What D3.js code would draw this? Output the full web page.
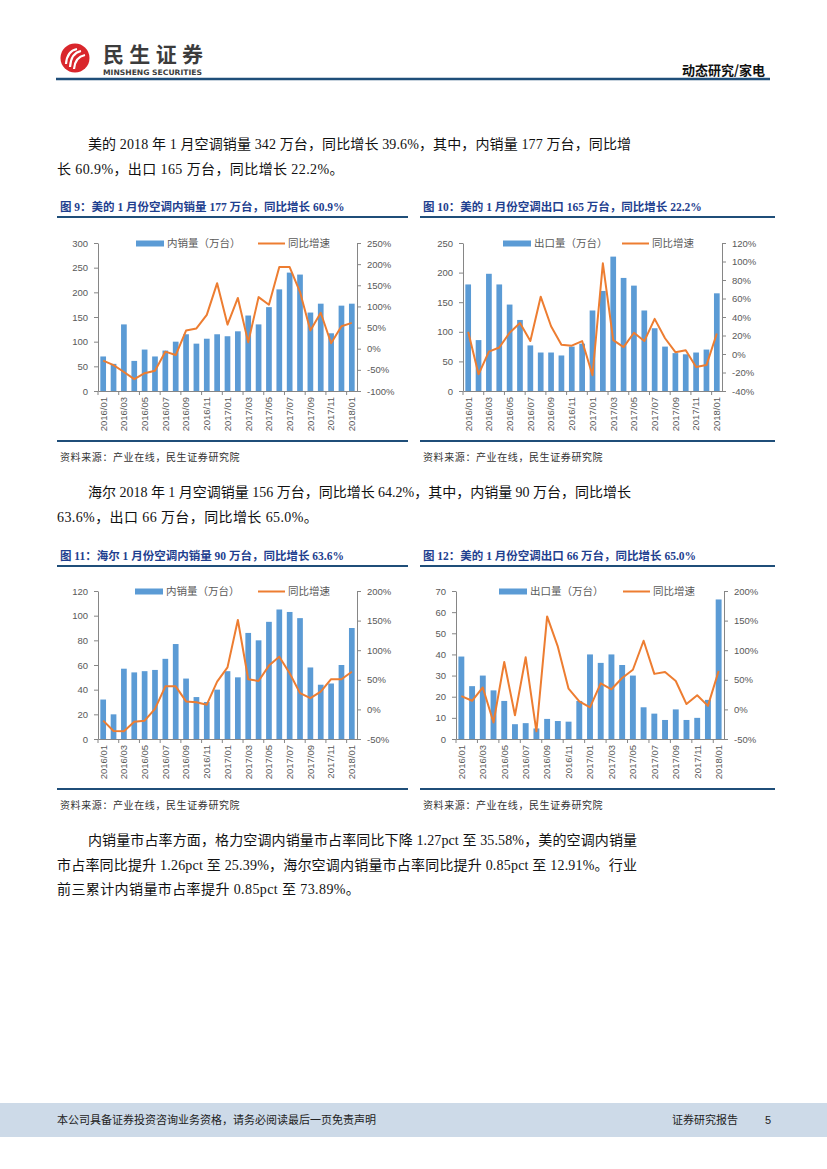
<!DOCTYPE html>
<html>
<head>
<meta charset="utf-8">
<script src="https://cdn.jsdelivr.net/npm/d3@7"></script>
<style>
  body { margin: 0; background: #fff; }
  svg { display: block; }
</style>
</head>
<body>
<div id="page"></div>
<script>
// page size
var width = 827;
var height = 1169;

// categories: months shown on every chart
var months = ["2016/01","2016/02","2016/03","2016/04","2016/05","2016/06","2016/07","2016/08","2016/09","2016/10","2016/11","2016/12",
              "2017/01","2017/02","2017/03","2017/04","2017/05","2017/06","2017/07","2017/08","2017/09","2017/10","2017/11","2017/12","2018/01"];

// fig 9: Midea domestic sales (10k units) and yoy (%)
var mideaDomVol = [70,55,135,61,84,70,82,100,115,96,106,115,111,121,153,135,170,206,240,236,159,177,117,173,177];
var mideaDomYoy = [-28,-39,-55,-72,-58,-52,-7,-15,43,48,80,155,57,120,15,122,104,193,193,134,43,85,13,53,61];
// fig 10: Midea export
var mideaExpVol = [180,86,198,180,146,120,77,65,65,60,75,80,136,169,227,191,178,136,106,75,64,62,65,70,165];
var mideaExpYoy = [24,-22,2.5,7,23,33.5,14,62,30,10,9,14,-23,98,15,7.5,23,14,38,17,2,4,-14,-12,22.2];
// fig 11: Haier domestic sales
var haierDomVol = [32,20,57,54,55,56,65,77,49,34,30,40,55,50,86,80,95,105,103,98,58,44,45,60,90];
var haierDomYoy = [-19,-36.5,-37,-21,-19,1,39,39,13.5,12,8,47,71,151,51,48,74,89,61,27.5,19,30,51,51,63.6];
// fig 12: export, 66
var exp12Vol = [39,25,30,23,18,7,7.5,5,9.5,8.5,8.2,18,40,36,40,35,30,15,12,9,14,9,10,18.5,66];
var exp12Yoy = [22.5,14.6,37,-22,80,-10,88,-37,157,106,35,13.5,3.4,44,34,53,67,116,60,63,48,9,24,6,65];

// tick labels
var ticks9L = [0,50,100,150,200,250,300];
var ticks9R = [-100,-50,0,50,100,150,200,250];
var ticks10L = [0,50,100,150,200,250];
var ticks10R = [-40,-20,0,20,40,60,80,100,120];
var ticks11L = [0,20,40,60,80,100,120];
var ticks11R = [-50,0,50,100,150,200];
var ticks12L = [0,10,20,30,40,50,60,70];
var ticks12R = [-50,0,50,100,150,200];

var barColor = "#5B9BD5";
var lineColor = "#ED7D31";
var axisColor = "#868686";
var tickText = "#595959";
var navy = "#1F4E79";
var serif = "'Liberation Serif','Noto Sans CJK SC',serif";
var sans = "'Liberation Sans','Noto Sans CJK SC',sans-serif";
var cjk = "'Noto Sans CJK SC',sans-serif";

var svg = d3.select("#page").append("svg")
    .attr("width", width)
    .attr("height", height);

// ---------- header ----------
var logo = svg.append("g").attr("transform", "translate(75,58)");
logo.append("circle").attr("r", 14.5).attr("fill", "#D9262C");
[[-9,6,2,-9],[-5,9,6,-7],[-1,11,10,-3]].forEach(function(s){
    logo.append("path")
        .attr("d", "M" + s[0] + "," + s[1] + " Q" + (s[0]+1) + "," + (s[3]+2) + " " + s[2] + "," + s[3])
        .attr("fill", "none").attr("stroke", "#fff").attr("stroke-width", 2.2);
});
svg.append("text").attr("x", 103).attr("y", 62)
    .attr("font-family", cjk).attr("font-weight", "bold").attr("font-size", 21)
    .attr("fill", "#3C3C3C").attr("textLength", 100).text("民生证券");
svg.append("text").attr("x", 103).attr("y", 75)
    .attr("font-family", "'DejaVu Sans',sans-serif").attr("font-weight", "bold").attr("font-size", 7.5)
    .attr("fill", "#3C3C3C").attr("textLength", 99).attr("lengthAdjust", "spacingAndGlyphs")
    .text("MINSHENG SECURITIES");
svg.append("text").attr("x", 765).attr("y", 75).attr("text-anchor", "end")
    .attr("font-family", cjk).attr("font-weight", "bold").attr("font-size", 13)
    .attr("fill", "#111").text("动态研究/家电");
svg.append("line").attr("x1", 56).attr("x2", 770).attr("y1", 79).attr("y2", 79)
    .attr("stroke", navy).attr("stroke-width", 2.5);

// ---------- body text ----------
function para(lines, y0) {
    lines.forEach(function(l, i){
        var x0 = l.indent ? 88 : 57;
        var t = svg.append("text")
            .attr("x", x0)
            .attr("y", y0 + i * 24.5)
            .attr("font-family", serif).attr("font-size", 14).attr("fill", "#111")
            .text(l.text);
        if (l.full) t.attr("textLength", l.full - x0).attr("lengthAdjust", "spacing");
        else t.attr("letter-spacing", 0.4);
    });
}
para([
    {text: "美的 2018 年 1 月空调销量 342 万台，同比增长 39.6%，其中，内销量 177 万台，同比增", indent: true, full: 631},
    {text: "长 60.9%，出口 165 万台，同比增长 22.2%。"}
], 149);
para([
    {text: "海尔 2018 年 1 月空调销量 156 万台，同比增长 64.2%，其中，内销量 90 万台，同比增长", indent: true, full: 631},
    {text: "63.6%，出口 66 万台，同比增长 65.0%。"}
], 497);
para([
    {text: "内销量市占率方面，格力空调内销量市占率同比下降 1.27pct 至 35.58%，美的空调内销量", indent: true, full: 637},
    {text: "市占率同比提升 1.26pct 至 25.39%，海尔空调内销量市占率同比提升 0.85pct 至 12.91%。行业", full: 637},
    {text: "前三累计内销量市占率提升 0.85pct 至 73.89%。"}
], 845);

// ---------- charts ----------
function drawChart(c) {
    var g = svg.append("g");

    // title + rules
    g.append("text").attr("x", c.frame[0] + 3).attr("y", c.titleY)
        .attr("font-family", serif).attr("font-weight", "bold").attr("font-size", 11.5)
        .attr("fill", "#1F3F8F").text(c.title);
    g.append("line").attr("x1", c.frame[0]).attr("x2", c.frame[1])
        .attr("y1", c.titleY + 6).attr("y2", c.titleY + 6)
        .attr("stroke", navy).attr("stroke-width", 2);
    g.append("line").attr("x1", c.frame[0]).attr("x2", c.frame[1])
        .attr("y1", c.bottom + 50).attr("y2", c.bottom + 50)
        .attr("stroke", navy).attr("stroke-width", 2);
    g.append("text").attr("x", c.frame[0] + 3).attr("y", c.bottom + 70)
        .attr("font-family", cjk).attr("font-size", 10).attr("fill", "#333")
        .attr("letter-spacing", 0.6).text("资料来源：产业在线，民生证券研究院");

    var x = d3.scaleBand().domain(months)
        .range([c.left, c.right]).paddingInner(0.45).paddingOuter(0.225);
    var yL = d3.scaleLinear().domain(d3.extent(c.ticksL)).range([c.bottom, c.top]);
    var yR = d3.scaleLinear().domain(d3.extent(c.ticksR)).range([c.bottom, c.top]);

    // bars
    g.append("g").selectAll("rect").data(c.vol).enter().append("rect")
        .attr("x", function(d, i){ return x(months[i]); })
        .attr("width", x.bandwidth())
        .attr("y", function(d){ return yL(d); })
        .attr("height", function(d){ return yL(0) - yL(d); })
        .attr("fill", barColor);

    // axes
    var axL = g.append("g").attr("transform", "translate(" + c.left + ",0)")
        .call(d3.axisLeft(yL).tickValues(c.ticksL).tickSize(4).tickSizeOuter(0).tickPadding(6));
    var axR = g.append("g").attr("transform", "translate(" + c.right + ",0)")
        .call(d3.axisRight(yR).tickValues(c.ticksR).tickSize(4).tickSizeOuter(0).tickPadding(6)
            .tickFormat(function(d){ return d + "%"; }));
    var axB = g.append("g").attr("transform", "translate(0," + c.bottom + ")")
        .call(d3.axisBottom(x).tickValues(months.filter(function(d, i){ return i % 2 === 0; }))
            .tickSize(0).tickSizeOuter(0).tickPadding(0));
    axB.selectAll("text")
        .attr("transform", "rotate(-90)")
        .attr("text-anchor", "end")
        .attr("x", -6).attr("y", 0).attr("dy", "0.35em");
    // category tick marks every two months, on band boundaries
    var gap = (x.step() - x.bandwidth()) / 2;
    axB.selectAll("line.sep").data(months.filter(function(d, i){ return i % 2 === 0; }))
        .enter().append("line").attr("class", "sep")
        .attr("x1", function(d){ return x(d) - gap; })
        .attr("x2", function(d){ return x(d) - gap; })
        .attr("y1", 0).attr("y2", 4).attr("stroke", axisColor);

    [axL, axR, axB].forEach(function(a){
        a.selectAll(".domain").attr("stroke", axisColor);
        a.selectAll(".tick line").attr("stroke", axisColor);
        a.selectAll("text").attr("fill", tickText)
            .attr("font-family", sans).attr("font-size", 9.5);
    });

    // yoy line
    var line = d3.line()
        .x(function(d, i){ return x(months[i]) + x.bandwidth() / 2; })
        .y(function(d){ return yR(d); });
    g.append("path").datum(c.yoy).attr("d", line)
        .attr("fill", "none").attr("stroke", lineColor).attr("stroke-width", 2)
        .attr("stroke-linejoin", "round");

    // legend
    var ly = c.top + 0.5;
    g.append("rect").attr("x", c.leg[0]).attr("y", ly - 3).attr("width", 28).attr("height", 6)
        .attr("fill", barColor);
    g.append("text").attr("x", c.leg[0] + 31).attr("y", ly).attr("dy", "0.35em")
        .attr("font-family", cjk).attr("font-size", 10.5).attr("fill", tickText)
        .text(c.volLabel);
    g.append("line").attr("x1", c.leg[1]).attr("x2", c.leg[1] + 27).attr("y1", ly).attr("y2", ly)
        .attr("stroke", lineColor).attr("stroke-width", 2);
    g.append("text").attr("x", c.leg[1] + 30).attr("y", ly).attr("dy", "0.35em")
        .attr("font-family", cjk).attr("font-size", 10.5).attr("fill", tickText)
        .text("同比增速");
}

drawChart({
    title: "图 9：美的 1 月份空调内销量 177 万台，同比增长 60.9%",
    frame: [57, 408], titleY: 211,
    left: 98, right: 357, top: 243, bottom: 391,
    vol: mideaDomVol, yoy: mideaDomYoy, ticksL: ticks9L, ticksR: ticks9R,
    volLabel: "内销量（万台）", leg: [136, 258]
});
drawChart({
    title: "图 10：美的 1 月份空调出口 165 万台，同比增长 22.2%",
    frame: [420, 775], titleY: 211,
    left: 463, right: 722, top: 243, bottom: 391,
    vol: mideaExpVol, yoy: mideaExpYoy, ticksL: ticks10L, ticksR: ticks10R,
    volLabel: "出口量（万台）", leg: [503, 622]
});
drawChart({
    title: "图 11：海尔 1 月份空调内销量 90 万台，同比增长 63.6%",
    frame: [57, 408], titleY: 560,
    left: 98, right: 357, top: 591, bottom: 739,
    vol: haierDomVol, yoy: haierDomYoy, ticksL: ticks11L, ticksR: ticks11R,
    volLabel: "内销量（万台）", leg: [135, 258]
});
drawChart({
    title: "图 12：美的 1 月份空调出口 66 万台，同比增长 65.0%",
    frame: [420, 775], titleY: 560,
    left: 456, right: 724, top: 591, bottom: 739,
    vol: exp12Vol, yoy: exp12Yoy, ticksL: ticks12L, ticksR: ticks12R,
    volLabel: "出口量（万台）", leg: [499, 623]
});

// ---------- footer ----------
svg.append("rect").attr("x", 0).attr("y", 1103).attr("width", width).attr("height", 34)
    .attr("fill", "#CDDAE8");
svg.append("text").attr("x", 57).attr("y", 1124)
    .attr("font-family", cjk).attr("font-size", 11).attr("fill", "#222")
    .text("本公司具备证券投资咨询业务资格，请务必阅读最后一页免责声明");
svg.append("text").attr("x", 672).attr("y", 1124)
    .attr("font-family", cjk).attr("font-size", 11).attr("fill", "#222")
    .text("证券研究报告");
svg.append("text").attr("x", 765).attr("y", 1124)
    .attr("font-family", sans).attr("font-size", 11).attr("fill", "#222")
    .text("5");
</script>
</body>
</html>
